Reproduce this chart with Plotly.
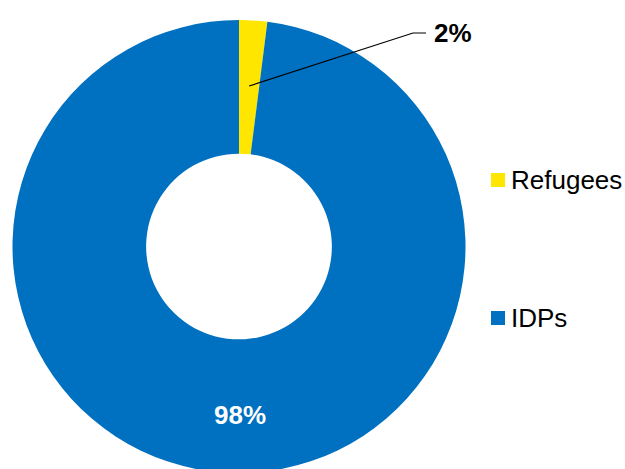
import math
import plotly.graph_objects as go

labels = ["Refugees", "IDPs"]
values = [2, 98]
colors = ["#FFE600", "#0070C0"]

W, H = 625, 469          # visible window
FH = 490                 # figure slightly taller; bottom is cropped like the reference
FONT = "Liberation Sans, Arial, sans-serif"

# pie box in pixels (from top-left)
PX0, PX1 = 12.5, 465.5
PY0, PY1 = 20, 473

dx0, dx1 = PX0 / W, PX1 / W
dy0, dy1 = 1 - PY1 / FH, 1 - PY0 / FH

total = sum(values)

fig = go.Figure(go.Pie(
    labels=labels, values=values, hole=0.41, sort=False,
    direction="clockwise", rotation=0,
    marker=dict(colors=colors, line=dict(width=0)),
    textinfo="none",
    domain=dict(x=[dx0, dx1], y=[dy0, dy1]),
    showlegend=False, hoverinfo="label+percent",
))

R = min(PX1 - PX0, PY1 - PY0) / 2
cx = (PX0 + PX1) / 2
cy = (PY0 + PY1) / 2

def px2paper(x, y):
    return x / W, 1 - y / FH

# leader line for the small slice
frac = values[0] / total
mid = frac * 360 / 2
r_pt = 0.71 * R
px = cx + r_pt * math.sin(math.radians(mid))
py = cy - r_pt * math.cos(math.radians(mid))
ex, ey = 413, 33
hx = 426
p0 = px2paper(px, py)
p1 = px2paper(ex, ey)
p2 = px2paper(hx, ey)
fig.add_shape(type="path", xref="paper", yref="paper",
              path=f"M {p0[0]},{p0[1]} L {p1[0]},{p1[1]} L {p2[0]},{p2[1]}",
              line=dict(color="black", width=1.2))
lx, ly = px2paper(432, 33)
fig.add_annotation(x=lx, y=ly, xref="paper", yref="paper", xanchor="left",
                   yanchor="middle", showarrow=False,
                   text=f"<b>{round(frac * 100)}%</b>",
                   font=dict(family=FONT, size=26, color="black"))

# label of the big slice (inside, white)
bx, by = px2paper(cx + 1, cy + 0.745 * R)
fig.add_annotation(x=bx, y=by, xref="paper", yref="paper", xanchor="center",
                   yanchor="middle", showarrow=False,
                   text=f"<b>{round(values[1] / total * 100)}%</b>",
                   font=dict(family=FONT, size=26, color="white"))

# legend drawn manually
leg_y = [180, 318]
for lab, col, y in zip(labels, colors, leg_y):
    a = px2paper(491, y - 7)
    b = px2paper(505, y + 7)
    fig.add_shape(type="rect", xref="paper", yref="paper",
                  x0=a[0], y0=b[1], x1=b[0], y1=a[1],
                  fillcolor=col, line=dict(width=0))
    tx, ty = px2paper(509, y)
    fig.add_annotation(x=tx, y=ty, xref="paper", yref="paper", xanchor="left",
                       yanchor="middle", showarrow=False, text=lab,
                       font=dict(family=FONT, size=26, color="black"))

fig.update_layout(width=W, height=FH, margin=dict(l=0, r=0, t=0, b=0),
                  paper_bgcolor="white", plot_bgcolor="white")
fig.write_html("out.html", config={"displayModeBar": False},
               post_script="document.body.style.margin='0';document.body.style.overflow='hidden';")
